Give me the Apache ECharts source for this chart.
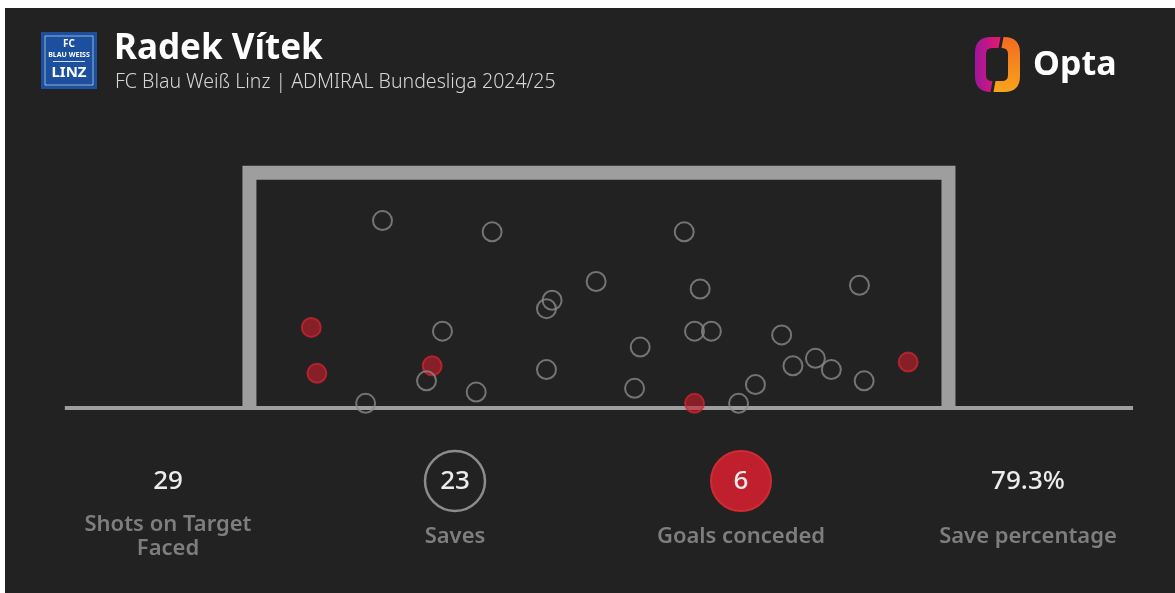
<!DOCTYPE html>
<html>
<head>
<meta charset="utf-8">
<title>Radek Vítek - shots on target faced</title>
<script src="https://cdn.jsdelivr.net/npm/echarts@6.0.0/dist/echarts.min.js"></script>
<style>
  html, body { margin: 0; padding: 0; background: #fff; }
  #chart { width: 1175px; height: 593px; }
</style>
</head>
<body>
<div id="chart"></div>
<script>
// where each shot on target ended up, metres from the left post / from the ground
const saveX = [1.35, 2.52, 3.63, 3.16, 3.10, 1.99, 1.82, 2.35, 1.17, 3.10, 4.57, 4.74, 6.44, 4.68, 4.86, 5.61, 4.10, 5.97, 5.73, 6.14, 4.04, 5.33, 6.49, 5.15];
const saveY = [2.00, 1.88, 1.35, 1.15, 1.06, 0.82, 0.29, 0.17, 0.05, 0.41, 1.88, 1.27, 1.31, 0.82, 0.82, 0.78, 0.65, 0.53, 0.45, 0.41, 0.21, 0.25, 0.29, 0.05];
const goalX = [0.59, 0.65, 1.88, 6.96, 4.68];
const goalY = [0.86, 0.37, 0.45, 0.49, 0.05];

const statValues = ['29', '23', '6', '79.3%'];
const statLabels = ['Shots on Target\nFaced', 'Saves', 'Goals conceded', 'Save percentage'];

const GOAL_W = 7.32;
const GOAL_H = 2.44;
const POST = 0.07; // half the post thickness

const font = '"Noto Sans", "DejaVu Sans", sans-serif';
const frameColor = '#9e9e9e';

// opta mark, two halves of a split rounded ring
const optaLeft = 'M25.5,0 L16,0 Q0,0 0,16 L0,39 Q0,55 16,55 L15.5,55 L17.5,44 L17,44 Q11,44 11,38 L11,17 Q11,11 17,11 L23.5,11 Z';
const optaRight = 'M28.5,0 L29,0 Q45,0 45,16 L45,39 Q45,55 29,55 L18.5,55 L20.5,44 L27,44 Q33,44 33,38 L33,17 Q33,11 27,11 L26.5,11 Z';
echarts.graphic.registerShape('optaLeft', echarts.graphic.extendPath(optaLeft, {}));
echarts.graphic.registerShape('optaRight', echarts.graphic.extendPath(optaRight, {}));

const chart = echarts.init(document.getElementById('chart'), null, { renderer: 'canvas' });

const zip = (xs, ys) => xs.map((x, i) => [x, ys[i]]);

// stat row under the goal
const statX = [168, 455, 741, 1028];
const statEls = [];
statValues.forEach((v, i) => {
  if (i === 1) {
    statEls.push({
      type: 'circle',
      shape: { cx: statX[i], cy: 481, r: 30 },
      style: { fill: 'transparent', stroke: '#8c8c8c', lineWidth: 2.5 },
    });
  }
  if (i === 2) {
    statEls.push({
      type: 'circle',
      shape: { cx: statX[i], cy: 481, r: 30 },
      style: { fill: '#c0202e', stroke: '#d12a34', lineWidth: 2 },
    });
  }
  statEls.push({
    type: 'text',
    z: 10,
    style: {
      text: v, x: statX[i], y: 482, textAlign: 'center', textVerticalAlign: 'middle', verticalAlign: 'middle',
      fontFamily: font, fontSize: 26, fontWeight: 500, fill: '#ececec',
    },
  });
  statEls.push({
    type: 'text',
    style: {
      text: statLabels[i], x: statX[i], y: 537, textAlign: 'center', textVerticalAlign: 'middle', verticalAlign: 'middle',
      fontFamily: font, fontSize: 22, fontWeight: 600, fill: '#7e7e7e', lineHeight: 24,
    },
  });
});

const option = {
  backgroundColor: '#222222',
  animation: false,
  grid: { left: 31.1, right: 8.2, top: 126.9, bottom: 138.15 },
  xAxis: { type: 'value', min: -2.4, max: 9.72, show: false },
  yAxis: { type: 'value', min: -0.5, max: 3.0, show: false },
  graphic: [
    // white page edge along top and left
    { type: 'rect', z: 100, shape: { x: 0, y: 0, width: 1175, height: 8 }, style: { fill: '#ffffff' } },
    { type: 'rect', z: 100, shape: { x: 0, y: 0, width: 5, height: 593 }, style: { fill: '#ffffff' } },
    // club badge
    { type: 'rect', shape: { x: 41, y: 32, width: 56, height: 57 }, style: { fill: '#1d4f9f' } },
    { type: 'rect', shape: { x: 45, y: 36, width: 48, height: 49 }, style: { fill: 'none', stroke: 'rgba(255,255,255,0.55)', lineWidth: 1 } },
    { type: 'text', style: { text: 'FC', x: 69, y: 44, textAlign: 'center', textVerticalAlign: 'middle', verticalAlign: 'middle', fontFamily: font, fontSize: 10, fontWeight: 'bold', fill: '#fff' } },
    { type: 'text', style: { text: 'BLAU WEISS', x: 69, y: 54.5, textAlign: 'center', textVerticalAlign: 'middle', verticalAlign: 'middle', fontFamily: font, fontSize: 7, fontWeight: 'bold', fill: '#fff' } },
    { type: 'line', shape: { x1: 53, y1: 61.5, x2: 85, y2: 61.5 }, style: { stroke: 'rgba(255,255,255,0.8)', lineWidth: 1 } },
    { type: 'text', style: { text: 'LINZ', x: 69, y: 73, textAlign: 'center', textVerticalAlign: 'middle', verticalAlign: 'middle', fontFamily: font, fontSize: 15, fontWeight: 'bold', fill: '#fff' } },
    // title block
    { type: 'text', style: { text: 'Radek Vítek', x: 114, y: 49, textVerticalAlign: 'middle', verticalAlign: 'middle', fontFamily: font, fontSize: 35, fontWeight: 'bold', fill: '#ffffff' } },
    { type: 'text', style: { text: 'FC Blau Weiß Linz | ADMIRAL Bundesliga 2024/25', x: 115, y: 82, textVerticalAlign: 'middle', verticalAlign: 'middle', fontFamily: font, fontSize: 19.5, fontWeight: 300, fill: '#d6d6d6' } },
    // opta logo
    {
      type: 'optaLeft', x: 975, y: 37,
      style: { fill: { type: 'linear', x: 0, y: 0, x2: 1, y2: 0, colorStops: [{ offset: 0, color: '#9d179f' }, { offset: 1, color: '#e6196b' }] } },
    },
    {
      type: 'optaRight', x: 975, y: 37,
      style: { fill: { type: 'linear', x: 0, y: 0, x2: 0, y2: 1, colorStops: [{ offset: 0, color: '#f36a23' }, { offset: 1, color: '#f8a41c' }] } },
    },
    { type: 'text', style: { text: 'Opta', x: 1033, y: 65, textVerticalAlign: 'middle', verticalAlign: 'middle', fontFamily: font, fontSize: 34, fontWeight: 'bold', fill: '#ffffff' } },
  ].concat(statEls),
  series: [
    {
      // ground line
      type: 'line',
      silent: true,
      symbol: 'none',
      z: 1,
      data: [[-2.04, 0], [GOAL_W + 2.04, 0]],
      lineStyle: { color: frameColor, width: 4 },
    },
    {
      // posts and crossbar
      type: 'line',
      silent: true,
      symbol: 'none',
      z: 1,
      data: [[-POST, 0], [-POST, GOAL_H + POST], [GOAL_W + POST, GOAL_H + POST], [GOAL_W + POST, 0]],
      lineStyle: { color: frameColor, width: 14, join: 'miter', cap: 'butt' },
    },
    {
      name: 'Goals conceded',
      type: 'scatter',
      z: 3,
      symbol: 'circle',
      symbolSize: 19,
      data: zip(goalX, goalY),
      itemStyle: { color: 'rgba(200,30,45,0.76)', borderColor: 'rgba(210,36,50,0.92)', borderWidth: 2 },
    },
    {
      name: 'Saves',
      type: 'scatter',
      z: 4,
      symbol: 'circle',
      symbolSize: 19,
      data: zip(saveX, saveY),
      itemStyle: { color: 'rgba(0,0,0,0)', borderColor: '#8a8a8a', borderWidth: 2 },
    },
  ],
};

chart.setOption(option);
</script>
</body>
</html>
